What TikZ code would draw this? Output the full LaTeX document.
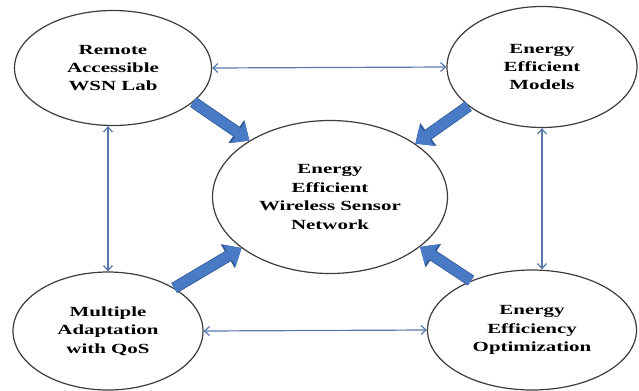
\documentclass[tikz,border=0pt]{standalone}
\usepackage{fontspec}
\setmainfont{Liberation Serif}[FakeStretch=1.5]
\usetikzlibrary{shapes}
\usetikzlibrary{calc}
\usetikzlibrary{positioning}
\usetikzlibrary{arrows.meta}

\definecolor{ringgray}{RGB}{60,60,60}
\definecolor{bigblue}{RGB}{72,122,198}
\definecolor{edgeblue}{RGB}{50,90,150}
\definecolor{linkblue}{RGB}{88,120,172}

\begin{document}
\begin{tikzpicture}[x = 1bp, y = -1bp,
    topic/.style = {ellipse, draw = ringgray, line width = 1.2bp, fill = white, inner sep = 0pt,
                    align = center, font = \bfseries\fontsize{14}{18.5}\selectfont},
    feed/.style = {draw = bigblue, line width = 10bp, -{Triangle[width = 24bp, length = 14bp]},
                   preaction = {draw = edgeblue, line width = 11.6bp,
                                -{Triangle[width = 27bp, length = 16bp]}}},
    link/.style = {draw = linkblue, line width = 1.2bp,
                   {Straight Barb[length = 5bp, width = 9bp]}-{Straight Barb[length = 5bp, width = 9bp]}}]

    \useasboundingbox (0,0) rectangle (639,390);

    %\draw[help lines, opacity = 0.1] (0,0) grid[step = 50] (639,390);

    \node (core) at (330,197) [topic, minimum width = 235bp, minimum height = 153bp]
        {Energy\\Efficient\\Wireless Sensor\\Network};

    \node (lab) at (113,68) [topic, minimum width = 197bp, minimum height = 115bp]
        {Remote\\Accessible\\WSN Lab};
    \node (models) at (542,67) [topic, minimum width = 190bp, minimum height = 121bp]
        {Energy\\Efficient\\Models};
    \node (qos) at (108,331) [topic, minimum width = 190bp, minimum height = 118bp]
        {Multiple\\Adaptation\\with QoS};
    \node (optim) at (532,330) [topic, minimum width = 209bp, minimum height = 120bp]
        {Energy\\Efficiency\\Optimization};

    % thick arrows into the centre
    \draw[feed] (lab.-23) -- (core.145);
    \draw[feed] (models.-152) -- (core.32);
    \draw[feed] (qos.33) -- (core.210);
    \draw[feed] (optim.141) -- (core.-29);

    % thin two-way links round the outside
    \draw[link] (lab.east) -- (models.west);
    \draw[link] (qos.east) -- (optim.west);
    \draw[link] (qos.north) -- (qos.north |- lab.south);
    \draw[link] (models.south) -- (models.south |- optim.north);

\end{tikzpicture}
\end{document}
